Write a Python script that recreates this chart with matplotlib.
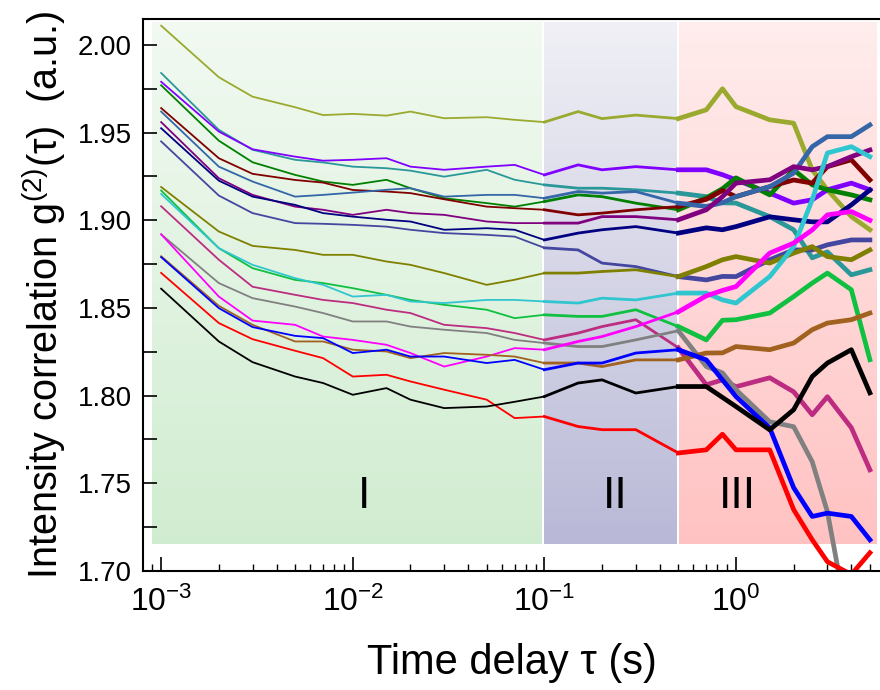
import numpy as np
import matplotlib
matplotlib.use("Agg")
import matplotlib.pyplot as plt
from matplotlib.colors import LinearSegmentedColormap
from matplotlib.ticker import LogLocator, MultipleLocator, NullFormatter

plt.rcParams['font.family'] = ['Liberation Sans', 'DejaVu Sans']
plt.rcParams['mathtext.fontset'] = 'custom'
plt.rcParams['mathtext.rm'] = 'Liberation Sans'
plt.rcParams['mathtext.it'] = 'Liberation Sans:italic'
plt.rcParams['mathtext.default'] = 'regular'

# ---------------- data ----------------
tau = [0.001, 0.002, 0.003, 0.005, 0.007, 0.01, 0.015, 0.02, 0.03, 0.05, 0.07,
       0.1, 0.15, 0.2, 0.3, 0.5, 0.7, 0.85, 1.0, 1.5, 2.0, 2.5, 3.0, 4.0, 5.0]

g_black = [1.861, 1.8309, 1.8191, 1.8109, 1.8072, 1.8005, 1.8043, 1.7977, 1.7929, 1.7938, 1.7965,
           1.7995, 1.8072, 1.8090, 1.8015, 1.8052, 1.8052, 1.799, 1.7938, 1.7805, 1.792, 1.8109, 1.8186, 1.8262, 1.8016]
g_red = [1.870, 1.8414, 1.8322, 1.8256, 1.8214, 1.8109, 1.8119, 1.8081, 1.8034, 1.7977, 1.7872,
         1.7881, 1.7824, 1.7806, 1.7806, 1.7673, 1.7691, 1.778, 1.7691, 1.7691, 1.7350, 1.7178, 1.7053, 1.698, 1.7104]
g_blue = [1.879, 1.8499, 1.8391, 1.8341, 1.8328, 1.8243, 1.8262, 1.8223, 1.8223, 1.8186, 1.8204,
          1.8148, 1.8186, 1.8186, 1.8243, 1.8262, 1.8204, 1.809, 1.7995, 1.7816, 1.7475, 1.7311, 1.7330, 1.7311, 1.7178]
g_brown = [1.8795, 1.8512, 1.8404, 1.8309, 1.8309, 1.8262, 1.8252, 1.8214, 1.8243, 1.8233, 1.8223,
           1.8186, 1.8186, 1.8166, 1.8204, 1.8204, 1.8243, 1.8244, 1.8280, 1.8262, 1.8300, 1.8376, 1.8414, 1.8433, 1.8471]
g_magenta = [1.892, 1.8565, 1.8428, 1.8404, 1.8337, 1.8318, 1.8290, 1.8243, 1.8166, 1.8223, 1.8271,
             1.8262, 1.8309, 1.8337, 1.8394, 1.8478, 1.8569, 1.860, 1.8622, 1.8813, 1.8870, 1.8945, 1.9031, 1.905, 1.900]
g_gray = [1.892, 1.8642, 1.8556, 1.8508, 1.8471, 1.8423, 1.8423, 1.8394, 1.8376, 1.8357, 1.8318,
          1.8300, 1.8280, 1.8280, 1.8318, 1.8370, 1.8166, 1.813, 1.8034, 1.7851, 1.7823, 1.7623, 1.7338, 1.66, np.nan]
g_pink = [1.908, 1.8775, 1.8621, 1.8575, 1.8546, 1.8528, 1.8490, 1.8471, 1.8404, 1.8385, 1.8357,
          1.8318, 1.8357, 1.8394, 1.8433, 1.8273, 1.8062, 1.809, 1.8051, 1.8102, 1.8022, 1.7891, 1.7994, 1.7817, 1.7577]
g_lgreen = [1.917, 1.8841, 1.8727, 1.8660, 1.8642, 1.8613, 1.8575, 1.8546, 1.8518, 1.8490, 1.8442,
            1.8461, 1.8452, 1.8452, 1.8490, 1.8394, 1.8318, 1.843, 1.8433, 1.8471, 1.8565, 1.8642, 1.8699, 1.8604, 1.8205]
g_cyan = [1.915, 1.8841, 1.8746, 1.8670, 1.8632, 1.8565, 1.8575, 1.8537, 1.8528, 1.8546, 1.8546,
          1.8537, 1.8528, 1.8556, 1.8546, 1.8585, 1.8585, 1.8546, 1.8528, 1.8679, 1.8850, 1.9117, 1.9384, 1.9420, 1.9363]
g_olive = [1.919, 1.8936, 1.8854, 1.8831, 1.8803, 1.8803, 1.8765, 1.8746, 1.8699, 1.8632, 1.8661,
           1.8699, 1.8699, 1.8708, 1.8718, 1.8679, 1.8736, 1.8775, 1.8793, 1.8756, 1.8813, 1.8850, 1.8793, 1.8775, 1.8831]
g_slate = [1.945, 1.9141, 1.9041, 1.8984, 1.8980, 1.8974, 1.8964, 1.8946, 1.8927, 1.8917, 1.8907,
           1.8843, 1.8831, 1.8756, 1.8736, 1.8679, 1.8660, 1.868, 1.8679, 1.8775, 1.8831, 1.8831, 1.8860, 1.8888, 1.8888]
g_navy = [1.9525, 1.9226, 1.9135, 1.9088, 1.9041, 1.9021, 1.9003, 1.8993, 1.8946, 1.8955, 1.8946,
          1.8888, 1.8927, 1.8946, 1.8964, 1.8927, 1.8957, 1.8946, 1.8964, 1.9020, 1.9003, 1.8991, 1.8991, 1.9088, 1.9173]
g_purple = [1.956, 1.9240, 1.9145, 1.9078, 1.9060, 1.9031, 1.9060, 1.9041, 1.9031, 1.8993, 1.8984,
            1.8984, 1.8984, 1.9021, 1.9021, 1.9003, 1.9060, 1.9135, 1.9212, 1.9231, 1.9306, 1.9288, 1.9306, 1.9363, 1.9401]
g_royal = [1.962, 1.9306, 1.9221, 1.9135, 1.9145, 1.9158, 1.9174, 1.9183, 1.9135, 1.9145, 1.9145,
           1.9126, 1.9164, 1.9155, 1.9164, 1.9098, 1.9079, 1.910, 1.9135, 1.9192, 1.9269, 1.9420, 1.9477, 1.9477, 1.9544]
g_wine = [1.964, 1.9354, 1.9265, 1.9230, 1.9215, 1.9173, 1.9164, 1.9155, 1.9120, 1.9078, 1.9069,
          1.9060, 1.9031, 1.9041, 1.9060, 1.9078, 1.912, 1.917, 1.9135, 1.9192, 1.9230, 1.9212, 1.9306, 1.9345, 1.9230]
g_green = [1.977, 1.9454, 1.9331, 1.9259, 1.9221, 1.9202, 1.9231, 1.9183, 1.9126, 1.9098, 1.9078,
           1.9107, 1.9145, 1.9135, 1.9098, 1.9060, 1.9128, 1.918, 1.9242, 1.9145, 1.9288, 1.9202, 1.9174, 1.9145, 1.9117]
g_violet = [1.979, 1.9506, 1.9405, 1.9363, 1.9340, 1.9345, 1.9354, 1.9306, 1.9288, 1.9306, 1.9316,
            1.9259, 1.9316, 1.9288, 1.9306, 1.9288, 1.9288, 1.926, 1.9231, 1.9155, 1.9098, 1.9117, 1.9174, 1.9212, 1.9174]
g_teal = [1.984, 1.9516, 1.9402, 1.9345, 1.9330, 1.9306, 1.9297, 1.9283, 1.9249, 1.9288, 1.9231,
          1.9202, 1.9183, 1.9183, 1.9174, 1.9155, 1.9135, 1.910, 1.9098, 1.9021, 1.8946, 1.8786, 1.8820, 1.8689, 1.8718]
g_oyellow = [2.011, 1.9816, 1.9705, 1.9645, 1.960, 1.9607, 1.9597, 1.962, 1.9582, 1.9588, 1.9573,
             1.956, 1.962, 1.958, 1.960, 1.958, 1.963, 1.975, 1.9648, 1.9573, 1.9554, 1.9288, 1.9174, 1.9021, 1.8946]

series = [
    (g_oyellow, '#9AAA2E'), (g_teal, '#2A9898'), (g_violet, '#8000FF'), (g_green, '#008000'),
    (g_wine, '#800000'), (g_royal, '#3466A8'), (g_purple, '#800080'), (g_navy, '#000080'),
    (g_slate, '#4446A0'), (g_olive, '#808000'), (g_lgreen, '#10C040'), (g_cyan, '#30C6D0'),
    (g_pink, '#BC2C80'), (g_gray, '#808080'), (g_magenta, '#FF00FF'), (g_brown, '#A0621E'),
    (g_blue, '#0000FF'), (g_red, '#FF0000'), (g_black, '#000000'),
]

regions = [  # (x0, x1, top colour, bottom colour, label, label x)
    (0.0009, 0.097, '#F1F9F1', '#D0ECD0', 'I', 0.0114),
    (0.1, 0.49, '#EFEFF5', '#B9B9D7', 'II', 0.235),
    (0.505, 5.45, '#FFECEC', '#FFC2C2', 'III', 1.02),
]
region_y0, region_y1 = 1.7154, 2.013

# ---------------- figure ----------------
fig = plt.figure(figsize=(8.8, 6.9), dpi=100)
ax = fig.add_axes([143 / 880, 1 - 571 / 690, (880 - 143) / 880, (571 - 19) / 690])
ax.set_xscale('log')
ax.set_xlim(0.000804, 5.645)
ax.set_ylim(1.70, 2.0148)

yy = np.linspace(region_y0, region_y1, 101)
for x0, x1, ctop, cbot, lab, lx in regions:
    cmap = LinearSegmentedColormap.from_list('g', [cbot, ctop])
    C = np.linspace(0, 1, 100).reshape(-1, 1)
    ax.pcolormesh([x0, x1], yy, C, cmap=cmap, shading='flat', zorder=0, rasterized=True)
    ax.text(lx, 1.7423, lab, fontsize=32, ha='center', va='center', zorder=1)

t = np.array(tau)
for vals, col in series:
    v = np.array(vals)
    m1 = t <= 0.1
    m2 = (t >= 0.1) & (t <= 0.5)
    m3 = t >= 0.5
    ax.plot(t[m1], v[m1], color=col, lw=1.3, zorder=2, solid_joinstyle='round')
    ax.plot(t[m2], v[m2], color=col, lw=2.0, zorder=2, solid_joinstyle='round')
    ax.plot(t[m3], v[m3], color=col, lw=3.4, zorder=2, solid_joinstyle='round')

ax.yaxis.set_major_locator(MultipleLocator(0.05))
ax.yaxis.set_minor_locator(MultipleLocator(0.025))
ax.yaxis.set_major_formatter(matplotlib.ticker.FormatStrFormatter('%.2f'))
ax.xaxis.set_major_locator(LogLocator(base=10, numticks=10))
ax.xaxis.set_minor_locator(LogLocator(base=10, subs=np.arange(2, 10), numticks=20))
ax.xaxis.set_minor_formatter(NullFormatter())

ax.tick_params(axis='y', which='both', direction='in', length=10, width=1.2, labelsize=20, pad=8)
ax.tick_params(axis='x', which='major', direction='in', length=10, width=1.2, labelsize=23, pad=11)
ax.tick_params(axis='x', which='minor', direction='in', length=5, width=1.0)

for s in ['left', 'bottom', 'top']:
    ax.spines[s].set_linewidth(1.5)
ax.spines['right'].set_visible(False)

ax.set_xlabel('Time delay \u03c4 (s)', fontsize=30, labelpad=18)
ax.set_ylabel('Intensity correlation g$^{(2)}$(\u03c4)  (a.u.)', fontsize=28.5, labelpad=7)

fig.savefig('out.png', dpi=100)
